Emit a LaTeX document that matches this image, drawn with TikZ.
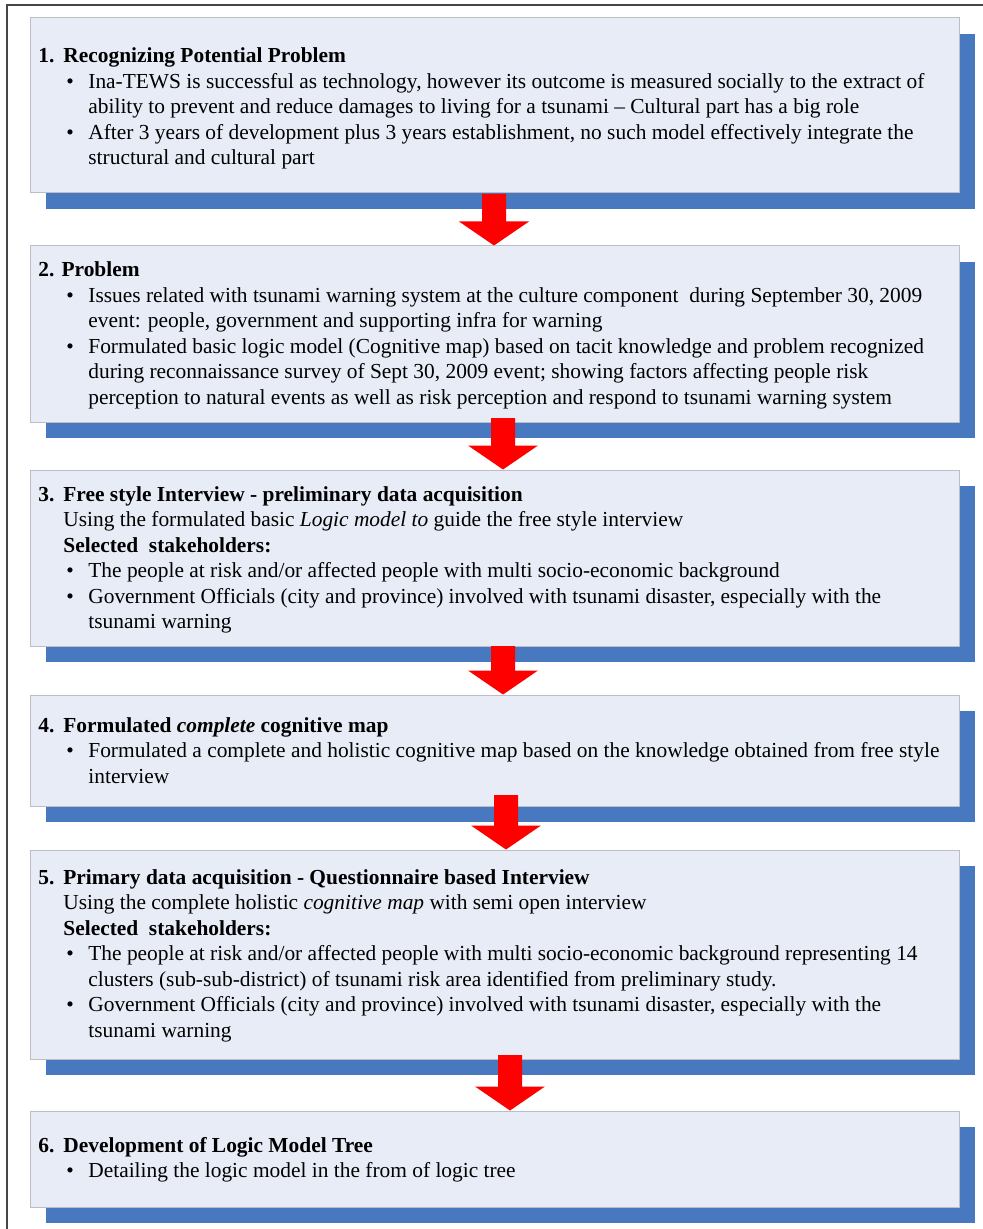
\documentclass[tikz,border=0pt]{standalone}
\usepackage{fontspec}
\setmainfont{Liberation Serif}
\usetikzlibrary{shadows,calc}

\definecolor{boxfill}{RGB}{231,236,246}
\definecolor{boxline}{RGB}{188,190,196}
\definecolor{shadowblue}{RGB}{71,120,192}
\definecolor{arrowred}{RGB}{255,0,0}
\definecolor{framegray}{RGB}{70,70,70}

% numbered heading, bullet line, bullet continuation, plain sub-line
\newcommand\steptitle[2]{\makebox[12.5pt][l]{\bfseries #1}\textbf{#2}}
\newcommand\bitem{\hspace*{14pt}\makebox[11pt][l]{\textbullet}}
\newcommand\bcont{\hspace*{25pt}}
\newcommand\subline{\hspace*{12.5pt}}

\tikzset{
  stepbox/.style={rectangle, draw=boxline, line width=0.5pt, fill=boxfill,
    inner sep=0pt, minimum width=464.5pt,
    drop shadow={shadow xshift=8pt, shadow yshift=-8pt, fill=shadowblue, opacity=1}},
  steptext/.style={anchor=base west, inner sep=0pt,
    font=\fontsize{10.7}{12.75}\selectfont},
  blockarrow/.style={fill=arrowred, draw=none}
}

% filled down-arrow from a shaft-top coordinate to the top of the next box
\newcommand\stepdownarrow[2]{%
  \fill[blockarrow] ([xshift=-6pt]#1) -- ([xshift=6pt]#1)
    -- ([xshift=6pt,yshift=12pt]#1 |- #2.north)
    -- ([xshift=17.5pt,yshift=12pt]#1 |- #2.north)
    -- (#1 |- #2.north)
    -- ([xshift=-17.5pt,yshift=12pt]#1 |- #2.north)
    -- ([xshift=-6pt,yshift=12pt]#1 |- #2.north) -- cycle;}

\begin{document}
\begin{tikzpicture}[x=0.5pt,y=-0.5pt]
\useasboundingbox (0,0) rectangle (983,1229);

% page frame
\draw[framegray, line width=0.7pt] (7,1229) -- (7,5) -- (983,5);

% step boxes
\node[stepbox, minimum height=87.5pt] (b1) at (494.5,105.5) {};
\node[stepbox, minimum height=88pt]   (b2) at (494.5,334) {};
\node[stepbox, minimum height=88pt]   (b3) at (494.5,558) {};
\node[stepbox, minimum height=55.5pt] (b4) at (494.5,750.5) {};
\node[stepbox, minimum height=104.5pt] (b5) at (494.5,954.5) {};
\node[stepbox, minimum height=48pt]   (b6) at (494.5,1159) {};

% box texts
\node[steptext] (t1) at (38,63) {\parbox[t]{470pt}{%
\steptitle{1.}{Recognizing Potential Problem}\\
\bitem Ina-TEWS is successful as technology, however its outcome is measured socially to the extract of\\
\bcont ability to prevent and reduce damages to living for a tsunami – Cultural part has a big role\\
\bitem After 3 years of development plus 3 years establishment, no such model effectively integrate the\\
\bcont structural and cultural part}};

\node[steptext] (t2) at (38,277) {\parbox[t]{470pt}{%
\textbf{2. Problem}\\
\bitem Issues related with tsunami warning system at the culture component~ during September 30, 2009\\
\bcont event: people, government and supporting infra for warning\\
\bitem Formulated basic logic model (Cognitive map) based on tacit knowledge and problem recognized\\
\bcont during reconnaissance survey of Sept 30, 2009 event; showing factors affecting people risk\\
\bcont perception to natural events as well as risk perception and respond to tsunami warning system}};

\node[steptext] (t3) at (38,501) {\parbox[t]{470pt}{%
\steptitle{3.}{Free style Interview - preliminary data acquisition}\\
\subline Using the formulated basic \textit{Logic model to} guide the free style interview\\
\subline\textbf{Selected~ stakeholders:}\\
\bitem The people at risk and/or affected people with multi socio-economic background\\
\bitem Government Officials (city and province) involved with tsunami disaster, especially with the\\
\bcont tsunami warning}};

\node[steptext] (t4) at (38,732) {\parbox[t]{470pt}{%
\steptitle{4.}{Formulated \textit{complete} cognitive map}\\
\bitem Formulated a complete and holistic cognitive map based on the knowledge obtained from free style\\
\bcont interview}};

\node[steptext] (t5) at (38,884) {\parbox[t]{470pt}{%
\steptitle{5.}{Primary data acquisition - Questionnaire based Interview}\\
\subline Using the complete holistic \textit{cognitive map} with semi open interview\\
\subline\textbf{Selected~ stakeholders:}\\
\bitem The people at risk and/or affected people with multi socio-economic background representing 14\\
\bcont clusters (sub-sub-district) of tsunami risk area identified from preliminary study.\\
\bitem Government Officials (city and province) involved with tsunami disaster, especially with the\\
\bcont tsunami warning}};

\node[steptext] (t6) at (38,1152) {\parbox[t]{470pt}{%
\steptitle{6.}{Development of Logic Model Tree}\\
\bitem Detailing the logic model in the from of logic tree}};

% arrows between steps (shaft tops)
\coordinate (a1) at (494,194);
\coordinate (a2) at (503,418);
\coordinate (a3) at (503,646);
\coordinate (a4) at (506,795);
\coordinate (a5) at (510,1055);
\stepdownarrow{a1}{b2}
\stepdownarrow{a2}{b3}
\stepdownarrow{a3}{b4}
\stepdownarrow{a4}{b5}
\stepdownarrow{a5}{b6}
\end{tikzpicture}
\end{document}
